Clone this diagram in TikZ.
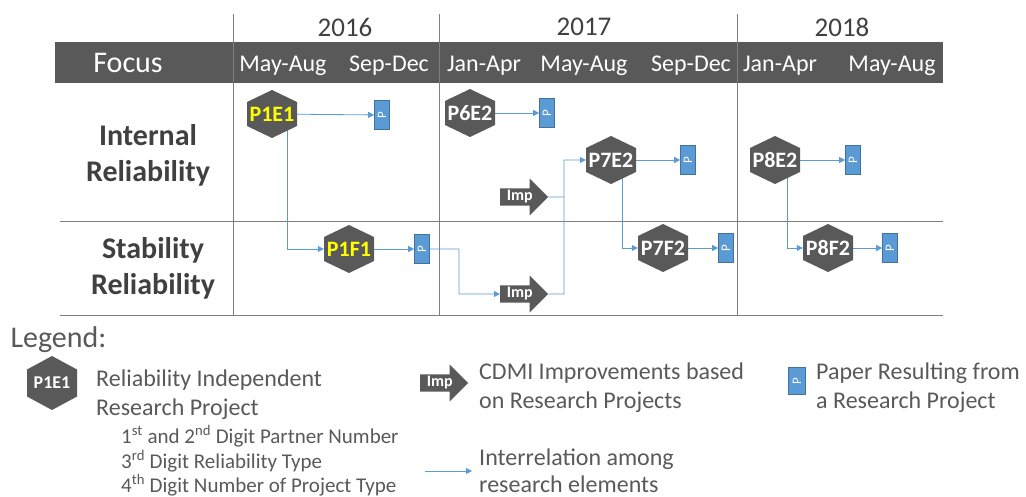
\documentclass[tikz,border=0pt]{standalone}
\usepackage{fontspec}
\setmainfont{Carlito}
\usepackage{xcolor}
\usepackage{tikz}
\usetikzlibrary{shapes.arrows,arrows.meta,backgrounds,calc}
\definecolor{grayFill}{HTML}{595959}
\definecolor{grayText}{HTML}{404040}
\definecolor{grayRule}{HTML}{7F7F7F}
\definecolor{blueLink}{HTML}{5B9BD5}
\definecolor{blueEdge}{HTML}{41719C}
\definecolor{yellowCode}{HTML}{FFFF00}

\begin{document}
\begin{tikzpicture}[x=1pt, y=-1pt,
        hexbox/.style={
            rectangle, minimum width=50pt, minimum height=48pt, inner sep=0pt,
            text=white, font=\fontsize{22}{24}\selectfont\bfseries,
            path picture={
                \fill[grayFill]
                (path picture bounding box.north)
                -- ($(path picture bounding box.north east)!0.25!(path picture bounding box.south east)$)
                -- ($(path picture bounding box.north east)!0.75!(path picture bounding box.south east)$)
                -- (path picture bounding box.south)
                -- ($(path picture bounding box.north west)!0.75!(path picture bounding box.south west)$)
                -- ($(path picture bounding box.north west)!0.25!(path picture bounding box.south west)$)
                -- cycle;
            }},
        paper/.style={
            rectangle, minimum width=15pt, minimum height=29pt, inner sep=0pt,
            fill=blueLink, draw=blueEdge, line width=0.6pt,
            text=white, font=\fontsize{13}{13}\selectfont},
        impArrow/.style={
            single arrow, fill=grayFill, text=white,
            font=\fontsize{16}{17}\selectfont\bfseries,
            minimum height=48pt, single arrow head extend=10pt,
            inner xsep=1pt, inner ysep=2pt, anchor=tail},
        link/.style={blueLink, line width=0.8pt, -{Triangle[width=6pt,length=6pt]}},
        linkPlain/.style={blueLink, line width=0.8pt},
        gridRule/.style={grayRule, line width=0.8pt},
        monthLabel/.style={text=white, font=\fontsize{24}{26}\selectfont},
        yearLabel/.style={text=grayText, font=\fontsize{27}{29}\selectfont},
        rowLabel/.style={text=grayText, align=center, font=\fontsize{30}{36}\selectfont\bfseries},
        legendText/.style={text=grayFill, anchor=west, inner sep=1pt, font=\fontsize{24}{26}\selectfont},
        legendSub/.style={text=grayFill, anchor=west, inner sep=1pt, font=\fontsize{21}{23}\selectfont}
    ]

    \useasboundingbox (0,0) rectangle (1026,497);

    % header
    \node[yearLabel] (y2016) at (345,27) {2016};
    \node[yearLabel] (y2017) at (584,27) {2017};
    \node[yearLabel] (y2018) at (842,27) {2018};

    \node[text=white, font=\fontsize{30}{32}\selectfont] (focus) at (128,63) {Focus};
    \node[monthLabel] (m1) at (283,66) {May-Aug};
    \node[monthLabel] (m2) at (389,66) {Sep-Dec};
    \node[monthLabel] (m3) at (484,66) {Jan-Apr};
    \node[monthLabel] (m4) at (584,66) {May-Aug};
    \node[monthLabel] (m5) at (691,66) {Sep-Dec};
    \node[monthLabel] (m6) at (780,66) {Jan-Apr};
    \node[monthLabel] (m7) at (892,66) {May-Aug};

    % rows
    \node[rowLabel] (internal) at (148,155) {Internal\\Reliability};
    \node[rowLabel] (stability) at (153,268) {Stability\\Reliability};

    % projects
    \node[hexbox, text=yellowCode] (p1e1) at (272,114) {P1E1};
    \node[hexbox] (p6e2) at (470,113) {P6E2};
    \node[hexbox] (p7e2) at (611,160) {P7E2};
    \node[hexbox] (p8e2) at (775,160) {P8E2};
    \node[hexbox, text=yellowCode] (p1f1) at (349,249) {P1F1};
    \node[hexbox] (p7f2) at (663,248) {P7F2};
    \node[hexbox] (p8f2) at (828,248) {P8F2};

    % papers
    \node[paper] (paperE1) at (382,115) {\rotatebox{90}{P}};
    \node[paper] (paperE6) at (547,113) {\rotatebox{90}{P}};
    \node[paper] (paperE7) at (688,160) {\rotatebox{90}{P}};
    \node[paper] (paperE8) at (853,160) {\rotatebox{90}{P}};
    \node[paper] (paperF1) at (422,249) {\rotatebox{90}{P}};
    \node[paper] (paperF7) at (726,248) {\rotatebox{90}{P}};
    \node[paper] (paperF8) at (890,248) {\rotatebox{90}{P}};

    % improvements
    \node[impArrow] (imp1) at (500,197) {Imp};
    \node[impArrow] (imp2) at (500,294) {Imp};

    \coordinate (bendPaper) at (459,294);
    \coordinate (bendImp) at (564,294);

    % legend
    \node[text=grayFill, anchor=west, font=\fontsize{30}{32}\selectfont] (legend) at (7,340) {Legend:};
    \node[hexbox, minimum height=54pt, font=\fontsize{18}{20}\selectfont\bfseries] (legHex) at (52,383) {P1E1};
    \node[legendText] (legHexA) at (95,380) {Reliability Independent};
    \node[legendText] (legHexB) at (95,409) {Research Project};
    \node[legendSub] (legDigA) at (120,436) {1\textsuperscript{st} and 2\textsuperscript{nd} Digit Partner Number};
    \node[legendSub] (legDigB) at (120,461) {3\textsuperscript{rd} Digit Reliability Type};
    \node[legendSub] (legDigC) at (120,485) {4\textsuperscript{th} Digit Number of Project Type};

    \node[impArrow] (legImp) at (420,383) {Imp};
    \node[legendText] (legImpA) at (478,373) {CDMI Improvements based};
    \node[legendText] (legImpB) at (478,402) {on Research Projects};

    \node[paper, minimum width=17pt, minimum height=27pt] (legPaper) at (797,381) {\rotatebox{90}{P}};
    \node[legendText] (legPaperA) at (815,373) {Paper Resulting from};
    \node[legendText] (legPaperB) at (815,402) {a Research Project};

    \coordinate (legFrom) at (425,471);
    \coordinate (legTo) at (472,471);
    \node[legendText] (legLinkA) at (478,459) {Interrelation among};
    \node[legendText] (legLinkB) at (478,484) {research elements};

    \begin{scope}[on background layer]
        \fill[grayFill] (55,42) rectangle (943,83);
        \draw[gridRule] (233,14) -- (233,315);
        \draw[gridRule] (439,14) -- (439,315);
        \draw[gridRule] (737,14) -- (737,315);
        \draw[gridRule] (60,221) -- (943,221);
        \draw[gridRule] (60,315) -- (943,315);

        % interrelations
        \draw[link] (p1e1) -- (paperE1);
        \draw[link] (p6e2) -- (paperE6);
        \draw[link] (p7e2) -- (paperE7);
        \draw[link] (p8e2) -- (paperE8);
        \draw[link] (p1f1) -- (paperF1);
        \draw[link] (p7f2) -- (paperF7);
        \draw[link] (p8f2) -- (paperF8);
        \draw[link] ([xshift=15pt]p1e1.center) |- (p1f1);
        \draw[link] ([xshift=11pt]p7e2.center) |- (p7f2);
        \draw[link] ([xshift=12pt]p8e2.center) |- (p8f2);
        \draw[link] (paperF1) -| (bendPaper) -- (imp2);
        \draw[link] (imp2) -- (bendImp) |- (p7e2);
        \draw[linkPlain] (imp1) -- (imp1 -| bendImp);
        \draw[link] (legFrom) -- (legTo);
    \end{scope}

\end{tikzpicture}
\end{document}
